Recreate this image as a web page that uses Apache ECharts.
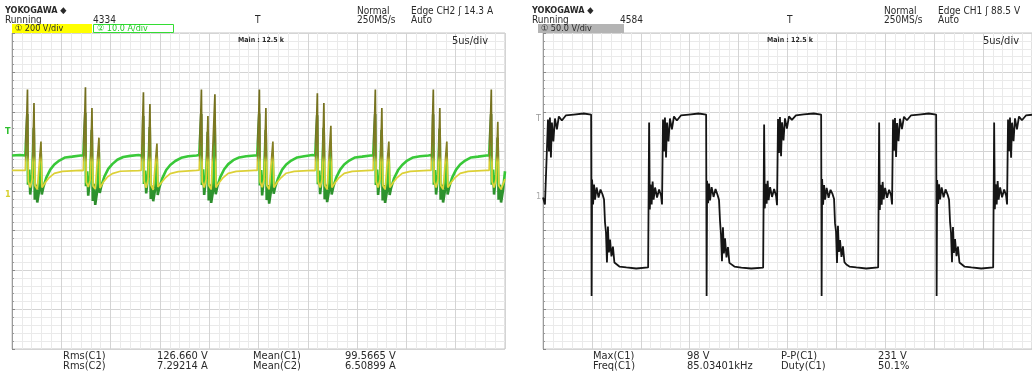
<!DOCTYPE html>
<html><head><meta charset="utf-8">
<script src="https://cdn.jsdelivr.net/npm/echarts@6/dist/echarts.min.js"></script>
<style>html,body{margin:0;padding:0;background:#fff}#c{width:1032px;height:379px}</style>
</head><body><div id="c"></div>
<script>
// ---------- DATA (time in µs, 5 µs/div) ----------
const timeMin = 0, timeMax = 50, timeStep = 5;

// Left scope, CH1 voltage [µs, V] (200 V/div)
const leftCh1Volts = [
[0,104],[1.35,104],[1.57,514],[1.65,48],[1.85,18],[2.05,58],[2.23,446],[2.33,28],[2.56,8],[2.94,250],[3.04,18],[3.38,43],[3.78,68],[4.29,89],[5.10,99],[6.95,104],
[7.23,103],[7.45,525],[7.53,45],[7.73,20],[7.93,55],[8.11,420],[8.21,25],[8.44,10],[8.82,270],[8.92,15],[9.26,45],[9.66,70],[10.17,88],[10.98,100],[12.83,103],
[13.11,104],[13.33,500],[13.41,50],[13.61,16],[13.81,60],[13.99,440],[14.09,30],[14.32,6],[14.70,240],[14.80,20],[15.14,42],[15.54,66],[16.05,88],[16.86,98],[18.71,104],
[18.99,105],[19.21,514],[19.29,48],[19.49,18],[19.69,58],[19.87,380],[19.97,28],[20.20,8],[20.58,490],[20.68,18],[21.02,43],[21.42,68],[21.93,89],[22.74,99],[24.59,104],
[24.87,104],[25.09,514],[25.17,46],[25.37,19],[25.57,57],[25.75,420],[25.85,27],[26.08,9],[26.46,250],[26.56,18],[26.90,44],[27.30,68],[27.81,90],[28.62,99],[30.47,104],
[30.75,103],[30.97,495],[31.05,48],[31.25,18],[31.45,58],[31.63,446],[31.73,28],[31.96,8],[32.34,330],[32.44,18],[32.78,43],[33.18,68],[33.69,89],[34.50,99],[36.35,104],
[36.63,104],[36.85,514],[36.93,48],[37.13,18],[37.33,58],[37.51,420],[37.61,28],[37.84,8],[38.22,250],[38.32,18],[38.66,43],[39.06,68],[39.57,89],[40.38,99],[42.23,104],
[42.51,104],[42.73,514],[42.81,48],[43.01,18],[43.21,58],[43.39,420],[43.49,28],[43.72,8],[44.10,250],[44.20,18],[44.54,43],[44.94,68],[45.45,89],[46.26,99],[48.11,104],
[48.39,104],[48.61,514],[48.69,48],[48.89,18],[49.09,58],[49.27,350],[49.37,28],[49.60,8],[50,60]
];

// Left scope, CH2 current [µs, A] (10 A/div)
const leftCh2Amps = [
[0,9.0],[0.8,9.1],
[1.35,9.0],[1.50,8.5],[1.55,19.5],[1.62,1.6],[1.75,5.4],[1.85,-0.9],[2.05,4.2],[2.21,16.0],[2.31,-2.2],[2.46,1.6],[2.56,-2.9],[2.77,0.4],[2.92,9.5],[3.02,-0.9],[3.17,0.9],[3.48,3.4],[3.88,5.4],[4.29,6.7],[4.80,7.7],[5.40,8.5],[6.11,8.7],[6.95,9.0],
[7.23,9.0],[7.38,8.5],[7.43,19.8],[7.50,1.2],[7.63,5.0],[7.73,-1.2],[7.93,4.0],[8.09,15.5],[8.19,-2.5],[8.34,1.8],[8.44,-3.5],[8.65,0.2],[8.80,10.0],[8.90,-0.5],[9.05,1.2],[9.36,3.6],[9.76,5.6],[10.17,6.8],[10.68,7.9],[11.28,8.6],[11.99,8.9],[12.83,9.1],
[13.11,9.0],[13.26,8.4],[13.31,19.0],[13.38,1.8],[13.51,5.2],[13.61,-0.6],[13.81,4.4],[13.97,16.2],[14.07,-2.0],[14.22,1.4],[14.32,-2.6],[14.53,0.6],[14.68,9.0],[14.78,-1.0],[14.93,0.8],[15.24,3.2],[15.64,5.3],[16.05,6.6],[16.56,7.6],[17.16,8.4],[17.87,8.8],[18.71,9.0],
[18.99,9.1],[19.14,8.6],[19.19,19.5],[19.26,1.5],[19.39,5.5],[19.49,-1.0],[19.69,4.1],[19.85,15.0],[19.95,-2.4],[20.10,1.7],[20.20,-3.0],[20.41,0.3],[20.56,17.0],[20.66,-0.8],[20.81,1.0],[21.12,3.5],[21.52,5.5],[21.93,6.8],[22.44,7.8],[23.04,8.5],[23.75,8.8],[24.59,9.0],
[24.87,9.0],[25.02,8.5],[25.07,19.6],[25.14,1.4],[25.27,5.3],[25.37,-1.1],[25.57,4.3],[25.73,15.5],[25.83,-2.3],[25.98,1.5],[26.08,-3.2],[26.29,0.5],[26.44,9.5],[26.54,-0.7],[26.69,1.0],[27.00,3.3],[27.40,5.4],[27.81,6.7],[28.32,7.7],[28.92,8.5],[29.63,8.8],[30.47,9.1],
[30.75,9.0],[30.90,8.6],[30.95,19.2],[31.02,1.7],[31.15,5.2],[31.25,-0.8],[31.45,4.2],[31.61,16.0],[31.71,-2.1],[31.86,1.6],[31.96,-2.8],[32.17,0.4],[32.32,11.0],[32.42,-0.9],[32.57,0.9],[32.88,3.4],[33.28,5.4],[33.69,6.7],[34.20,7.7],[34.80,8.5],[35.51,8.7],[36.35,9.0],
[36.63,9.0],[36.78,8.5],[36.83,19.5],[36.90,1.5],[37.03,5.4],[37.13,-1.0],[37.33,4.1],[37.49,15.5],[37.59,-2.4],[37.74,1.5],[37.84,-3.0],[38.05,0.3],[38.20,9.5],[38.30,-1.0],[38.45,0.8],[38.76,3.3],[39.16,5.3],[39.57,6.6],[40.08,7.7],[40.68,8.5],[41.39,8.8],[42.23,9.0],
[42.51,9.1],[42.66,8.5],[42.71,19.4],[42.78,1.6],[42.91,5.3],[43.01,-0.9],[43.21,4.2],[43.37,15.8],[43.47,-2.2],[43.62,1.6],[43.72,-2.9],[43.93,0.4],[44.08,9.6],[44.18,-0.9],[44.33,0.9],[44.64,3.4],[45.04,5.4],[45.45,6.7],[45.96,7.7],[46.56,8.5],[47.27,8.7],[48.11,9.0],
[48.39,9.0],[48.54,8.5],[48.59,19.5],[48.66,1.6],[48.79,5.4],[48.89,-0.9],[49.09,4.2],[49.25,13.5],[49.35,-2.2],[49.50,1.6],[49.60,-2.9],[49.81,0.4],[50,5.0]
];

// Right scope, CH1 voltage [µs, V] (50 V/div)
const rightCh1Volts = [
[0,-8.2],[0.20,-17.1],[0.51,90.5],[0.61,50.0],[0.71,93.0],[0.81,42.4],[0.91,86.7],[1.06,62.7],[1.22,91.8],[1.42,77.9],[1.62,94.3],[1.93,89.3],[2.33,95.6],[3.14,96.8],[4.16,98.1],[4.92,96.8],
[4.97,-133],[5.02,14.6],[5.12,-17.1],[5.22,8.2],[5.32,-10.8],[5.48,4.4],[5.68,-8.2],[5.88,1.9],[6.09,-4.4],[6.24,-10.8],[6.34,-39.9],[6.44,-52.5],[6.54,-90.5],[6.64,-44.9],[6.74,-77.9],[6.85,-61.4],[7.00,-82.9],[7.15,-70.3],[7.30,-90.5],[7.50,-93.0],[7.81,-95.6],[8.52,-96.8],[9.53,-98.1],[10.75,-96.8],
[10.85,86.7],[10.92,-23.4],[11.00,8.2],[11.11,-17.1],[11.21,12.0],[11.31,-10.8],[11.46,4.4],[11.66,-8.2],[11.87,1.9],[12.07,-5.7],[12.17,-17.1],[12.27,90.5],[12.37,50.0],[12.47,93.0],[12.58,42.4],[12.68,86.7],[12.83,62.7],[12.98,91.8],[13.18,77.9],[13.39,94.3],[13.69,89.3],[14.10,95.6],[14.91,96.8],[15.92,98.1],[16.68,96.8],
[16.73,-133],[16.78,13.0],[16.88,-15.5],[16.98,9.5],[17.08,-12.0],[17.24,5.0],[17.44,-7.5],[17.64,2.5],[17.85,-5.0],[18.00,-11.5],[18.10,-38.0],[18.20,-55.0],[18.30,-89.0],[18.40,-46.0],[18.50,-79.0],[18.61,-60.0],[18.76,-84.0],[18.91,-71.0],[19.06,-91.0],[19.26,-93.5],[19.57,-95.6],[20.28,-97.0],[21.29,-98.1],[22.51,-97.0],
[22.61,84.2],[22.68,-22.0],[22.76,9.0],[22.87,-16.0],[22.97,13.0],[23.07,-11.5],[23.22,5.0],[23.42,-7.5],[23.63,2.5],[23.83,-6.0],[23.93,-18.0],[24.03,91.0],[24.13,48.0],[24.23,93.5],[24.34,44.0],[24.44,87.0],[24.59,64.0],[24.74,92.0],[24.94,79.0],[25.15,94.5],[25.45,90.0],[25.86,95.6],[26.67,97.0],[27.68,98.1],[28.44,96.8],
[28.49,-133],[28.54,15.0],[28.64,-17.5],[28.74,7.5],[28.84,-11.0],[29.00,4.0],[29.20,-8.5],[29.40,1.5],[29.61,-4.0],[29.76,-10.0],[29.86,-41.0],[29.96,-51.0],[30.06,-91.0],[30.16,-44.0],[30.26,-77.0],[30.37,-62.0],[30.52,-83.5],[30.67,-70.0],[30.82,-90.0],[31.02,-93.0],[31.33,-95.6],[32.04,-96.8],[33.05,-98.1],[34.27,-96.8],
[34.37,86.7],[34.44,-24.0],[34.52,8.0],[34.63,-17.5],[34.73,11.5],[34.83,-10.5],[34.98,4.0],[35.18,-8.5],[35.39,1.5],[35.59,-5.5],[35.69,-17.0],[35.79,90.5],[35.89,51.0],[35.99,92.5],[36.10,43.0],[36.20,86.0],[36.35,63.0],[36.50,91.5],[36.70,78.5],[36.91,94.0],[37.21,89.5],[37.62,95.6],[38.43,96.8],[39.44,98.1],[40.20,96.8],
[40.25,-133],[40.30,14.0],[40.40,-16.5],[40.50,8.5],[40.60,-10.5],[40.76,4.5],[40.96,-8.0],[41.16,2.0],[41.37,-4.5],[41.52,-11.0],[41.62,-39.0],[41.72,-53.0],[41.82,-90.0],[41.92,-45.5],[42.02,-78.5],[42.13,-61.0],[42.28,-82.5],[42.43,-70.5],[42.58,-90.5],[42.78,-93.0],[43.09,-95.6],[43.80,-96.8],[44.81,-98.1],[46.03,-96.8],
[46.13,86.7],[46.20,-23.0],[46.28,8.5],[46.39,-17.0],[46.49,12.5],[46.59,-11.0],[46.74,4.5],[46.94,-8.0],[47.15,2.0],[47.35,-5.5],[47.45,-17.0],[47.55,90.5],[47.65,50.5],[47.75,93.0],[47.86,42.0],[47.96,86.5],[48.11,63.0],[48.26,92.0],[48.46,78.0],[48.67,94.3],[48.97,89.5],[49.38,95.6],[50,96.5]
];

// Measurement read-outs
const leftMeasureRows = [
  ['Rms(C1)', '126.660 V', 'Mean(C1)', '99.5665 V'],
  ['Rms(C2)', '7.29214 A', 'Mean(C2)', '6.50899 A']
];
const rightMeasureRows = [
  ['Max(C1)', '98 V', 'P-P(C1)', '231 V'],
  ['Freq(C1)', '85.03401kHz', 'Duty(C1)', '50.1%']
];

// ---------- CHART ----------
const FONT = '"Liberation Sans Narrow","DejaVu Sans Condensed","Noto Sans CJK SC",sans-serif';
function txt(x, y, text, size, opt) {
  opt = opt || {};
  return { type: 'text', x: x, y: y, z: 100, silent: true,
    style: { text: text, fill: opt.fill || '#2a2a2a',
      font: (opt.bold ? 'bold ' : '') + size + 'px ' + FONT,
      align: opt.align || 'left', verticalAlign: 'top' } };
}
function rect(x, y, w, h, fill, stroke) {
  return { type: 'rect', z: 90, silent: true, shape: { x: x, y: y, width: w, height: h },
    style: { fill: fill, stroke: stroke || null, lineWidth: 1 } };
}

const graphics = [];
function header(ox, count, edgeText, trigX) {
  graphics.push(txt(ox + 5, 6, 'YOKOGAWA ◆', 9, { bold: true }));
  graphics.push(txt(ox + 5, 15, 'Running', 10));
  graphics.push(txt(ox + 93, 15, count, 10));
  graphics.push(txt(trigX, 15, 'T', 10));
  graphics.push(txt(ox + 357, 6, 'Normal', 10));
  graphics.push(txt(ox + 357, 15, '250MS/s', 10));
  graphics.push(txt(ox + 411, 6, edgeText, 10));
  graphics.push(txt(ox + 411, 15, 'Auto', 10));
}
header(0, '4334', 'Edge CH2 ʃ 14.3 A', 255);
header(527, '4584', 'Edge CH1 ʃ 88.5 V', 787);

graphics.push(rect(12, 24, 80, 9, '#ffff00'));
graphics.push(txt(15, 24, '① 200 V/div', 9));
graphics.push(rect(93.5, 24.5, 80, 8, '#ffffff', '#33dd33'));
graphics.push(txt(97, 24, '② 10.0 A/div', 9, { fill: '#22cc22' }));
graphics.push(rect(538, 24, 86, 9, '#b4b4b4'));
graphics.push(txt(541, 24, '① 50.0 V/div', 9));

graphics.push(txt(238, 37, 'Main : 12.5 k', 7, { bold: true }));
graphics.push(txt(488, 36, '5us/div', 11, { align: 'right' }));
graphics.push(txt(767, 37, 'Main : 12.5 k', 7, { bold: true }));
graphics.push(txt(1019, 36, '5us/div', 11, { align: 'right' }));

graphics.push(txt(5, 127, 'T', 9, { fill: '#2fbf2f', bold: true }));
graphics.push(txt(5, 190, '1', 9, { fill: '#d8d030', bold: true }));
graphics.push(txt(536, 114, 'T', 9, { fill: '#999' }));
graphics.push(txt(536, 192, '1', 9, { fill: '#aaa' }));

const colX = [63, 157, 253, 345];
leftMeasureRows.forEach((row, r) => row.forEach((s, i) =>
  graphics.push(txt(colX[i], 351 + r * 9.5, s, 11))));
const colXR = [593, 687, 781, 878];
rightMeasureRows.forEach((row, r) => row.forEach((s, i) =>
  graphics.push(txt(colXR[i], 351 + r * 9.5, s, 11))));

function xAx(gi) {
  return { type: 'value', gridIndex: gi, min: timeMin, max: timeMax, interval: timeStep,
    axisLabel: { show: false }, axisLine: { show: false }, axisTick: { show: false },
    splitLine: { show: true, lineStyle: { color: '#d4d4d4', width: 1 } },
    minorTick: { show: false, splitNumber: 5 },
    minorSplitLine: { show: true, lineStyle: { color: '#eaeaea', width: 1 } } };
}
function yAx(gi, lim, step, grid) {
  return { type: 'value', gridIndex: gi, min: -lim, max: lim, interval: step,
    axisLabel: { show: false },
    axisLine: { show: grid, onZero: false, lineStyle: { color: '#9a9a9a' } },
    axisTick: { show: grid, inside: true, length: 3, lineStyle: { color: '#888' } },
    minorTick: { show: grid, splitNumber: 5, length: 2, lineStyle: { color: '#999' } },
    splitLine: { show: grid, lineStyle: { color: '#d4d4d4', width: 1 } },
    minorSplitLine: { show: grid, lineStyle: { color: '#eaeaea', width: 1 } } };
}

// Darker colour on the tall switching spikes (persistence look), as in the reference.
const ch1Grad = new echarts.graphic.LinearGradient(0, 0, 0, 1, [
  { offset: 0, color: '#6f6b1d' }, { offset: 0.66, color: '#868124' },
  { offset: 0.72, color: '#d9cd33' }, { offset: 1, color: '#e2d63c' }]);
const ch2Grad = new echarts.graphic.LinearGradient(0, 0, 0, 1, [
  { offset: 0, color: '#3a6f26' }, { offset: 0.32, color: '#3f842c' },
  { offset: 0.38, color: '#3bcb3b' }, { offset: 0.74, color: '#35c435' },
  { offset: 0.80, color: '#2d962d' }, { offset: 1, color: '#2d8a2d' }]);

const chart = echarts.init(document.getElementById('c'), null, { renderer: 'canvas' });
chart.setOption({
  animation: false,
  backgroundColor: '#ffffff',
  grid: [
    { left: 12, top: 33, width: 493, height: 316, show: true, borderColor: '#c4c4c4', borderWidth: 1, backgroundColor: 'transparent' },
    { left: 543, top: 33, width: 493, height: 316, show: true, borderColor: '#c4c4c4', borderWidth: 1, backgroundColor: 'transparent' }
  ],
  xAxis: [xAx(0), xAx(1)],
  yAxis: [yAx(0, 800, 200, true), yAx(0, 40, 10, false), yAx(1, 200, 50, true)],
  series: [
    { type: 'line', xAxisIndex: 0, yAxisIndex: 1, data: leftCh2Amps, showSymbol: false,
      lineStyle: { width: 2.6, color: ch2Grad }, itemStyle: { color: '#3ccb3c' }, z: 3 },
    { type: 'line', xAxisIndex: 0, yAxisIndex: 0, data: leftCh1Volts, showSymbol: false,
      lineStyle: { width: 1.7, color: ch1Grad }, itemStyle: { color: '#dccf35' }, z: 4 },
    { type: 'line', xAxisIndex: 1, yAxisIndex: 2, data: rightCh1Volts, showSymbol: false,
      lineStyle: { width: 1.8, color: '#151515' }, itemStyle: { color: '#151515' }, z: 3 }
  ],
  graphic: graphics
});
</script>
</body></html>
